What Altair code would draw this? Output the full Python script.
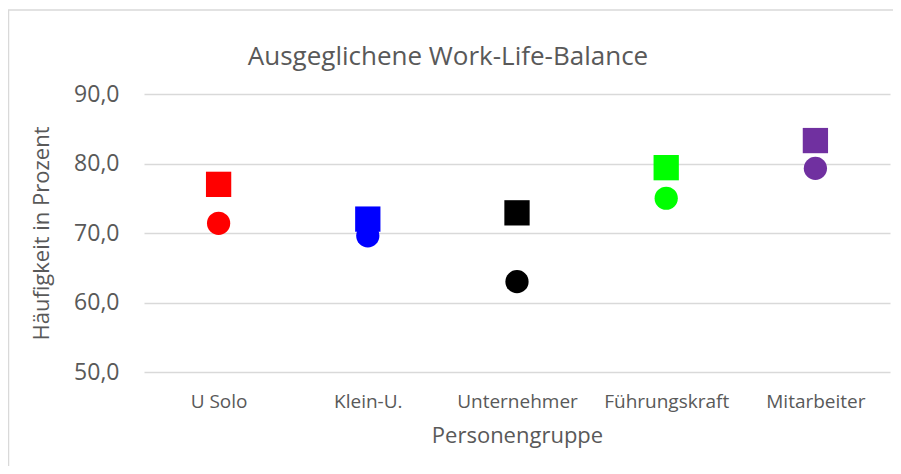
import altair as alt
import pandas as pd

categories = ["U Solo", "Klein-U.", "Unternehmer", "Führungskraft", "Mitarbeiter"]
colors = ["#FF0000", "#0000FF", "#000000", "#00FF00", "#7030A0"]
series_square = [77.0, 72.0, 72.9, 79.4, 83.3]
series_circle = [71.4, 69.6, 63.0, 75.0, 79.3]

rows = []
for c, s, o in zip(categories, series_square, series_circle):
    rows.append({"Gruppe": c, "Wert": o, "Reihe": "Kreis"})
    rows.append({"Gruppe": c, "Wert": s, "Reihe": "Quadrat"})
df = pd.DataFrame(rows)

FONT = "Open Sans"
GREY = "#595959"

x_enc = alt.X("Gruppe:N", sort=categories, scale=alt.Scale(paddingInner=0, paddingOuter=0),
              axis=alt.Axis(title="Personengruppe", labelAngle=0, ticks=False, domain=False,
                            labelFontSize=19, labelColor=GREY, labelFont=FONT, labelPadding=20,
                            titleFontSize=22, titleColor=GREY, titleFont=FONT, titleFontWeight="normal",
                            titlePadding=14, grid=False))
y_enc = alt.Y("Wert:Q", scale=alt.Scale(domain=[50, 90], nice=False, zero=False),
              axis=alt.Axis(title="Häufigkeit in Prozent", values=[50, 60, 70, 80, 90],
                            labelExpr="replace(format(datum.value, '.1f'), '.', ',')",
                            ticks=False, domain=False, grid=True, gridColor="#d9d9d9", gridWidth=1.5,
                            labelFontSize=23, labelColor=GREY, labelFont=FONT, labelPadding=25,
                            titleFontSize=22, titleColor=GREY, titleFont=FONT, titleFontWeight="normal",
                            titlePadding=20))
color_enc = alt.Color("Gruppe:N", scale=alt.Scale(domain=categories, range=colors), legend=None)

base = alt.Chart(df)
circles = base.transform_filter(alt.datum.Reihe == "Kreis").mark_point(
    shape="circle", filled=True, opacity=1, size=540
).encode(x=x_enc, y=y_enc, color=color_enc)
squares = base.transform_filter(alt.datum.Reihe == "Quadrat").mark_point(
    shape="square", filled=True, opacity=1, size=640
).encode(x=x_enc, y=y_enc, color=color_enc)

frame_src = alt.Data(values=[{}])
frame_top = alt.Chart(frame_src).mark_rule(color="#d9d9d9", strokeWidth=1.5).encode(
    x=alt.value(-136), x2=alt.value(760), y=alt.value(-84))
frame_left = alt.Chart(frame_src).mark_rule(color="#d9d9d9", strokeWidth=1.5).encode(
    x=alt.value(-135.5), y=alt.value(-84), y2=alt.value(400))

chart = alt.layer(frame_top, frame_left, circles, squares).properties(
    width=746, height=278,
    autosize=alt.AutoSizeParams(type="none"),
    padding={"left": 136, "top": 86, "right": 3, "bottom": 94},
    title=alt.TitleParams("Ausgeglichene Work-Life-Balance", fontSize=26, color=GREY, font=FONT,
                          fontWeight="normal", anchor="middle", offset=-61, dx=-69),
).configure_view(stroke=None)

chart.save("out.html", embed_options={"renderer": "svg", "actions": False})
